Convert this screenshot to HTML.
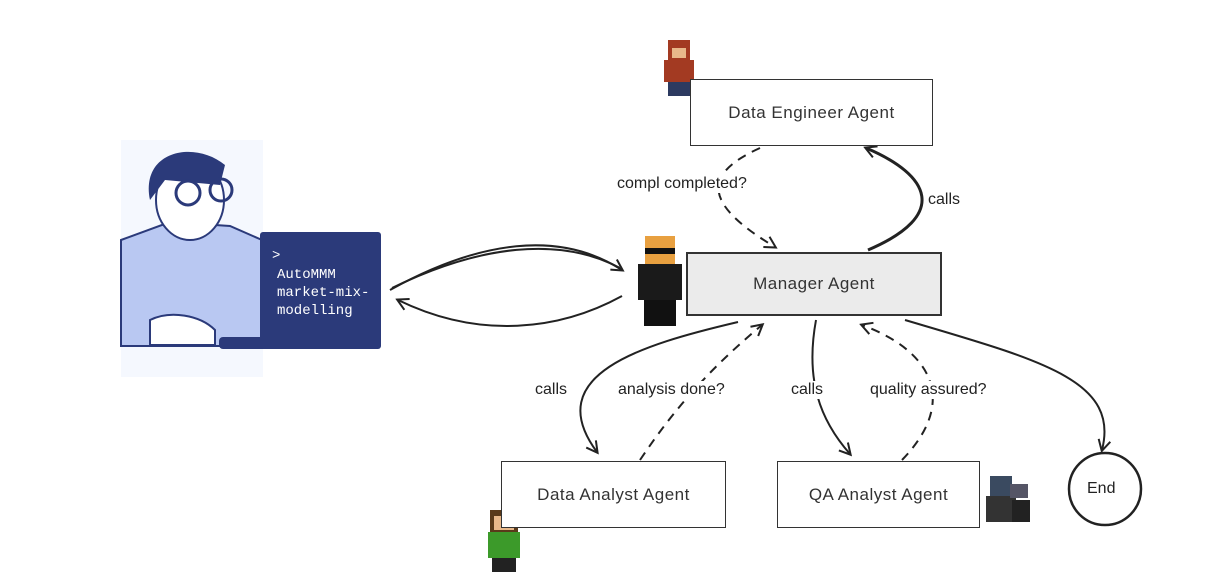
<!DOCTYPE html>
<html><head><meta charset="utf-8"><style>
html,body{margin:0;padding:0;background:#fff;}
body{width:1223px;height:588px;position:relative;overflow:hidden;font-family:"Liberation Sans",sans-serif;}
.box{position:absolute;border:1.5px solid #333;background:#fff;display:flex;align-items:center;justify-content:center;font-size:17px;color:#333;letter-spacing:0.5px;box-sizing:border-box;}
.lbl{position:absolute;font-size:16px;color:#222;background:#fff;white-space:nowrap;}
</style></head><body>
<svg width="1223" height="588" style="position:absolute;left:0;top:0">
<defs>
<marker id="a" markerWidth="14" markerHeight="14" refX="11" refY="7" orient="auto" markerUnits="userSpaceOnUse">
<path d="M1,1 L12,7 L1,13" fill="none" stroke="#222" stroke-width="2"/></marker>
</defs>
<g fill="none" stroke="#222" stroke-width="2">
<path d="M390,290 C480,240 560,230 622,270" marker-end="url(#a)"/>
<path d="M392,288 C480,245 560,236 620,268"/>
<path d="M622,296 C560,330 480,340 398,300" marker-end="url(#a)"/>
<path d="M760,148 C700,175 705,205 775,247" stroke-dasharray="9,7" marker-end="url(#a)"/>
<path d="M868,250 C950,215 930,175 866,148" stroke-width="3" marker-end="url(#a)"/>
<path d="M738,322 C640,345 540,375 597,452" marker-end="url(#a)"/>
<path d="M640,460 C680,400 720,360 762,325" stroke-dasharray="9,7" marker-end="url(#a)"/>
<path d="M816,320 C805,380 820,420 850,454" marker-end="url(#a)"/>
<path d="M902,460 C960,400 930,350 862,325" stroke-dasharray="9,7" marker-end="url(#a)"/>
<path d="M905,320 C1040,360 1120,380 1102,450" marker-end="url(#a)"/>
<circle cx="1105" cy="489" r="36" stroke-width="2.5"/>
</g>
<rect x="121" y="140" width="142" height="237" fill="#f5f8fe"/>
<path d="M121,240 L170,222 L230,226 L262,240 L262,346 L121,346 Z" fill="#b9c8f2" stroke="#2b3a7a" stroke-width="2"/>
<ellipse cx="190" cy="200" rx="34" ry="40" fill="#fff" stroke="#2b3a7a" stroke-width="2"/>
<path d="M150,200 C140,150 195,140 225,165 L220,185 L165,180 Z" fill="#2b3a7a"/>
<circle cx="188" cy="193" r="12" fill="none" stroke="#2b3a7a" stroke-width="3"/>
<circle cx="221" cy="190" r="11" fill="none" stroke="#2b3a7a" stroke-width="3"/>
<path d="M150,320 C170,310 200,315 215,330 L215,345 L150,345 Z" fill="#fff" stroke="#2b3a7a" stroke-width="2"/>
<rect x="219" y="337" width="60" height="12" rx="4" fill="#2b3a7a"/>
<rect x="260" y="232" width="121" height="117" rx="3" fill="#2b3a7a"/>
<text x="272" y="259" fill="#fff" font-family="Liberation Mono" font-size="14">&gt;</text>
<text x="277" y="278" fill="#fff" font-family="Liberation Mono" font-size="14">AutoMMM</text>
<text x="277" y="296" fill="#fff" font-family="Liberation Mono" font-size="14">market-mix-</text>
<text x="277" y="314" fill="#fff" font-family="Liberation Mono" font-size="14">modelling</text>
<g>
<rect x="668" y="40" width="22" height="22" fill="#a33a22"/><rect x="672" y="48" width="14" height="10" fill="#e8b88a"/>
<rect x="664" y="60" width="30" height="22" fill="#a33a22"/><rect x="668" y="82" width="22" height="14" fill="#2c3a60"/>
<rect x="645" y="236" width="30" height="28" fill="#e8a040"/><rect x="645" y="248" width="30" height="6" fill="#111"/>
<rect x="638" y="264" width="44" height="36" fill="#1a1a1a"/><rect x="644" y="300" width="32" height="26" fill="#111"/>
<rect x="490" y="510" width="28" height="22" fill="#5a3a1a"/><rect x="494" y="516" width="20" height="14" fill="#e8b88a"/>
<rect x="488" y="532" width="32" height="26" fill="#3c9a2a"/><rect x="492" y="558" width="24" height="14" fill="#222"/>
<rect x="990" y="476" width="22" height="20" fill="#3a4a60"/><rect x="986" y="496" width="30" height="26" fill="#333"/>
<rect x="1010" y="484" width="18" height="14" fill="#556"/><rect x="1012" y="500" width="18" height="22" fill="#222"/>
</g>
</svg>
<div class="box" style="left:690px;top:79px;width:243px;height:67px;">Data Engineer Agent</div>
<div class="box" style="left:686px;top:252px;width:256px;height:64px;background:#ebebeb;border:2.5px solid #333;">Manager Agent</div>
<div class="box" style="left:501px;top:461px;width:225px;height:67px;">Data Analyst Agent</div>
<div class="box" style="left:777px;top:461px;width:203px;height:67px;">QA Analyst Agent</div>
<div class="lbl" style="left:1087px;top:480px;background:none">End</div>
<div class="lbl" style="left:617px;top:175px;">compl completed?</div>
<div class="lbl" style="left:928px;top:191px;">calls</div>
<div class="lbl" style="left:535px;top:381px;">calls</div>
<div class="lbl" style="left:618px;top:381px;">analysis done?</div>
<div class="lbl" style="left:791px;top:381px;">calls</div>
<div class="lbl" style="left:870px;top:381px;">quality assured?</div>
</body></html>
